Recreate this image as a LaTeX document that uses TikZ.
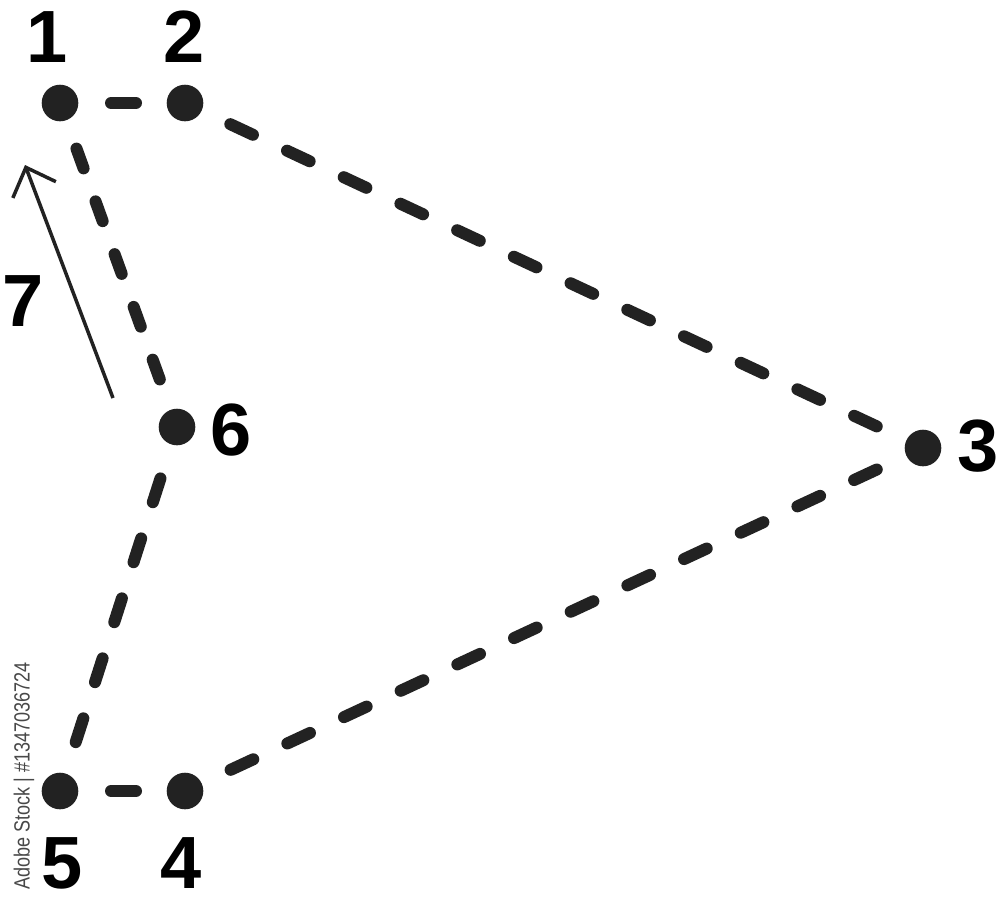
\documentclass[tikz,border=0pt]{standalone}
\usepackage{fontspec}
\setmainfont{Liberation Sans}
\usetikzlibrary{arrows.meta}
\definecolor{dotgray}{HTML}{222222}
\definecolor{wmgray}{HTML}{484848}
\begin{document}
\begin{tikzpicture}[x=1pt,y=-1pt,
  dot/.style={circle,fill=dotgray,inner sep=0pt,minimum size=36.6pt},
  num/.style={inner sep=0pt,font=\fontsize{74}{74}\selectfont\bfseries},
  edge/.style={line width=12pt,line cap=round,draw=dotgray}]
\useasboundingbox (0,0) rectangle (1000,906);
\fill[white] (0,0) rectangle (1000,906);
% points
\node[dot] (n1) at (60,103) {};
\node[dot] (n2) at (185,103) {};
\node[dot] (n3) at (923,448) {};
\node[dot] (n4) at (185,791) {};
\node[dot] (n5) at (60,791) {};
\node[dot] (n6) at (177,427) {};
% labels
\node[num] (l1) at (47,37) {1};
\node[num] (l2) at (184,37) {2};
\node[num] (l3) at (978,446) {3};
\node[num] (l4) at (181,863) {4};
\node[num] (l5) at (62,863) {5};
\node[num] (l6) at (231,430) {6};
\node[num] (l7) at (23,301) {7};
% dashed edges
\draw[edge,dash pattern=on 25pt off 50pt,shorten <=51pt,shorten >=49pt] (n1.center) -- (n2.center);
\draw[edge,dash pattern=on 25pt off 37.6pt,shorten <=50pt,shorten >=51pt] (n2.center) -- (n3.center);
\draw[edge,dash pattern=on 25pt off 37.5pt,shorten <=51pt,shorten >=50pt] (n3.center) -- (n4.center);
\draw[edge,dash pattern=on 25pt off 50pt,shorten <=49pt,shorten >=51pt] (n4.center) -- (n5.center);
\draw[edge,dash pattern=on 25pt off 38pt,shorten <=54pt,shorten >=51pt] (n6.center) -- (n5.center);
\draw[edge,dash pattern=on 21pt off 35.1pt,shorten <=48.5pt,shorten >=50.6pt] (n1.center) -- (n6.center);
% arrow 7
\coordinate (a7s) at (113,398);
\coordinate (a7e) at (25,165);
\draw[line width=3.5pt,draw=dotgray,-{Straight Barb[length=24pt,width=46pt,line width=3.5pt]}] (a7s) -- (a7e);
% vertical stock id
\node[rotate=90,inner sep=0pt,text=wmgray,font=\fontsize{22}{22}\selectfont] (wm) at (24,776) {\scalebox{0.82}[1]{Adobe Stock | \#1347036724}};
\end{tikzpicture}
\end{document}
